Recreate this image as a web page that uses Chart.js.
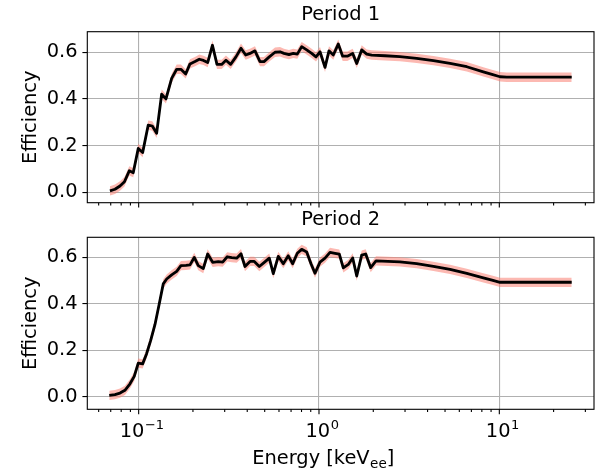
<!DOCTYPE html>
<html>
<head>
<meta charset="utf-8">
<script src="https://cdn.jsdelivr.net/npm/chart.js@4.4.1/dist/chart.umd.min.js"></script>
<style>
  html, body { margin: 0; padding: 0; background: #fff; }
  #fig { position: relative; width: 605px; height: 476px; overflow: hidden; }
  #fig canvas { position: absolute; left: 0; }
  #c1 { top: 0; }
  #c2 { top: 205px; }
</style>
</head>
<body>
<div id="fig">
  <canvas id="c1" width="605" height="210"></canvas>
  <canvas id="c2" width="605" height="271"></canvas>
</div>
<script>
// Period 1: energy (keVee) and efficiency
const energy1 = [0.0693, 0.0739, 0.0788, 0.0834, 0.0887, 0.0933, 0.0995, 0.1052, 0.1130, 0.1190,
  0.1258, 0.1341, 0.1417, 0.1524, 0.1625, 0.1716, 0.1823, 0.1926, 0.2053, 0.2169,
  0.2288, 0.2414, 0.2566, 0.2718, 0.2886, 0.3049, 0.3237, 0.3464, 0.3694, 0.3922,
  0.4144, 0.4416, 0.4708, 0.4955, 0.5301, 0.5702, 0.6076, 0.6394, 0.6817, 0.7203,
  0.7580, 0.8017, 0.8547, 0.9110, 0.9625, 1.013, 1.080, 1.136, 1.200, 1.279,
  1.353, 1.436, 1.538, 1.619, 1.725, 1.839, 1.960,
  2.32, 2.81, 3.48, 4.31, 5.33, 6.60, 8.15, 9.1, 10.09, 11.0, 25.2];
const eff1 = [0.006, 0.013, 0.027, 0.045, 0.092, 0.084, 0.188, 0.170, 0.288, 0.284,
  0.253, 0.420, 0.400, 0.488, 0.527, 0.527, 0.507, 0.550, 0.560, 0.570,
  0.565, 0.556, 0.630, 0.548, 0.548, 0.566, 0.548, 0.580, 0.617, 0.588,
  0.595, 0.606, 0.560, 0.560, 0.580, 0.600, 0.602, 0.595, 0.590, 0.595,
  0.592, 0.624, 0.610, 0.595, 0.580, 0.602, 0.535, 0.606, 0.588, 0.635,
  0.583, 0.583, 0.595, 0.552, 0.610, 0.592, 0.588,
  0.585, 0.581, 0.574, 0.564, 0.552, 0.538, 0.516, 0.505, 0.495, 0.493, 0.493];

// Period 2
const energy2 = [0.0687, 0.0739, 0.0788, 0.0839, 0.0895, 0.0945, 0.0995, 0.1052, 0.1107, 0.1166,
  0.1232, 0.1301, 0.1369, 0.1430, 0.1524, 0.1625, 0.1716, 0.1830, 0.1926, 0.2034,
  0.2141, 0.2282, 0.2414, 0.2573, 0.2764, 0.2923, 0.3100, 0.3280, 0.3496, 0.3694,
  0.3887, 0.4144, 0.4377, 0.4666, 0.4955, 0.5301, 0.5579, 0.5945, 0.6339, 0.6757,
  0.7147, 0.7580, 0.8017, 0.8547, 0.9030, 0.9502, 1.013, 1.080, 1.151, 1.227,
  1.296, 1.364, 1.454, 1.538, 1.619, 1.725, 1.816, 1.935, 2.071,
  2.81, 3.48, 4.31, 5.33, 6.60, 8.15, 9.1, 10.09, 11.0, 25.2];
const eff2 = [0.005, 0.008, 0.015, 0.027, 0.055, 0.087, 0.144, 0.141, 0.185, 0.242,
  0.311, 0.400, 0.486, 0.507, 0.525, 0.540, 0.565, 0.566, 0.568, 0.600,
  0.565, 0.552, 0.615, 0.579, 0.582, 0.580, 0.603, 0.599, 0.597, 0.616,
  0.561, 0.583, 0.583, 0.561, 0.578, 0.597, 0.530, 0.605, 0.573, 0.607,
  0.573, 0.618, 0.635, 0.624, 0.573, 0.532, 0.580, 0.597, 0.622, 0.618,
  0.614, 0.555, 0.570, 0.598, 0.520, 0.610, 0.615, 0.556, 0.585,
  0.581, 0.573, 0.562, 0.549, 0.531, 0.512, 0.502, 0.493, 0.493, 0.493];

// half height of the shaded uncertainty band
const bandHalfWidth = 0.02;

const yTicks = [0, 0.2, 0.4, 0.6];
const xMajorTicks = [0.1, 1, 10];
const xMajorExponents = ['\u22121', '0', '1'];
const xMinorTicks = [0.06, 0.07, 0.08, 0.09, 0.2, 0.3, 0.4, 0.5, 0.6, 0.7, 0.8, 0.9,
  2, 3, 4, 5, 6, 7, 8, 9, 20, 30];

const FONT = "'DejaVu Sans', sans-serif";
const FS = 19.4;

// titles, spines, log ticks, superscript labels
const decor = {
  id: 'decor',
  afterDraw(chart, args, opts) {
    const { ctx, chartArea: a } = chart;
    const xs = chart.scales.x;
    ctx.save();
    ctx.fillStyle = '#000';
    ctx.strokeStyle = '#000';
    ctx.lineWidth = 1.1;

    ctx.beginPath();
    xs.ticks.forEach(t => {
      const px = xs.getPixelForValue(t.value);
      ctx.moveTo(px, a.bottom);
      ctx.lineTo(px, a.bottom + (t.major ? 4.9 : 2.8));
    });
    ctx.stroke();
    ctx.strokeRect(a.left, a.top, a.right - a.left, a.bottom - a.top);

    ctx.font = FS + 'px ' + FONT;
    ctx.textAlign = 'center';
    ctx.textBaseline = 'alphabetic';
    ctx.fillText(opts.title, (a.left + a.right) / 2, a.top - 12);

    ctx.save();
    ctx.translate(opts.ylabelX, (a.top + a.bottom) / 2);
    ctx.rotate(-Math.PI / 2);
    ctx.fillText('Efficiency', 0, 0);
    ctx.restore();

    if (opts.xlabels) {
      ctx.textAlign = 'left';
      xMajorTicks.forEach((v, i) => {
        const px = xs.getPixelForValue(v);
        ctx.font = FS + 'px ' + FONT;
        const wBase = ctx.measureText('10').width;
        ctx.font = '13px ' + FONT;
        const wExp = ctx.measureText(xMajorExponents[i]).width;
        const x0 = px - (wBase + wExp) / 2 + 3;
        ctx.font = FS + 'px ' + FONT;
        ctx.fillText('10', x0, a.bottom + 27.5);
        ctx.font = '13px ' + FONT;
        ctx.fillText(xMajorExponents[i], x0 + wBase + 0.5, a.bottom + 20);
      });

      ctx.font = FS + 'px ' + FONT;
      const w1 = ctx.measureText('Energy [keV').width;
      const w3 = ctx.measureText(']').width;
      ctx.font = '13.5px ' + FONT;
      const w2 = ctx.measureText('ee').width;
      const x0 = opts.xlabelCenter - (w1 + w2 + w3) / 2;
      const base = a.bottom + 55;
      ctx.font = FS + 'px ' + FONT;
      ctx.fillText('Energy [keV', x0, base);
      ctx.fillText(']', x0 + w1 + w2 + 0.5, base);
      ctx.font = '13.5px ' + FONT;
      ctx.fillText('ee', x0 + w1 + 0.5, base + 3.5);
    }
    ctx.restore();
  }
};

function makePanel(canvasId, energy, eff, cfg) {
  const line = energy.map((e, i) => ({ x: e, y: eff[i] }));
  const lower = energy.map((e, i) => ({ x: e, y: eff[i] - bandHalfWidth }));
  const upper = energy.map((e, i) => ({ x: e, y: eff[i] + bandHalfWidth }));

  return new Chart(document.getElementById(canvasId), {
    type: 'line',
    data: {
      datasets: [
        {
          data: line,
          borderColor: '#000',
          borderWidth: 2.8,
          borderJoinStyle: 'round',
          pointRadius: 0,
          fill: false,
          tension: 0
        },
        {
          data: lower,
          borderWidth: 0,
          borderColor: 'rgba(0,0,0,0)',
          pointRadius: 0,
          fill: false
        },
        {
          data: upper,
          borderWidth: 0,
          borderColor: 'rgba(0,0,0,0)',
          backgroundColor: 'rgba(250, 128, 114, 0.55)',
          pointRadius: 0,
          fill: '-1'
        }
      ]
    },
    options: {
      responsive: false,
      animation: false,
      events: [],
      layout: { padding: { left: 0, right: 11, top: cfg.top, bottom: 0 } },
      plugins: {
        legend: { display: false },
        tooltip: { enabled: false },
        decor: cfg.decor
      },
      scales: {
        x: {
          type: 'logarithmic',
          min: 0.0519,
          max: 33.5,
          afterBuildTicks: s => {
            s.ticks = xMajorTicks.map(v => ({ value: v, major: true }))
              .concat(xMinorTicks.map(v => ({ value: v, major: false })))
              .sort((p, q) => p.value - q.value);
          },
          afterFit: s => { s.height = cfg.xHeight; s.paddingLeft = 0; s.paddingRight = 0; },
          ticks: { display: false },
          grid: {
            color: c => (c.tick && c.tick.major) ? '#b0b0b0' : 'rgba(0,0,0,0)',
            lineWidth: 1.1,
            drawTicks: false
          },
          border: { display: false }
        },
        y: {
          min: cfg.yMin,
          max: cfg.yMax,
          afterBuildTicks: s => { s.ticks = yTicks.map(v => ({ value: v })); },
          afterFit: s => { s.width = 87.3; s.paddingTop = 0; s.paddingBottom = 0; },
          ticks: {
            autoSkip: false,
            color: '#000',
            padding: 4.9,
            font: { family: FONT, size: FS },
            callback: v => Number(v).toFixed(1)
          },
          grid: {
            color: '#b0b0b0',
            lineWidth: 1.1,
            tickColor: '#000',
            tickLength: 4.9,
            tickWidth: 1.1
          },
          border: { display: false }
        }
      }
    },
    plugins: [decor]
  });
}

makePanel('c1', energy1, eff1, {
  top: 31.7, xHeight: 7.3, yMin: -0.0446, yMax: 0.688,
  decor: { title: 'Period 1', ylabelX: 36, xlabels: false }
});
makePanel('c2', energy2, eff2, {
  top: 32.3, xHeight: 66.7, yMin: -0.055, yMax: 0.687,
  decor: { title: 'Period 2', ylabelX: 36, xlabels: true, xlabelCenter: 323 }
});
</script>
</body>
</html>
